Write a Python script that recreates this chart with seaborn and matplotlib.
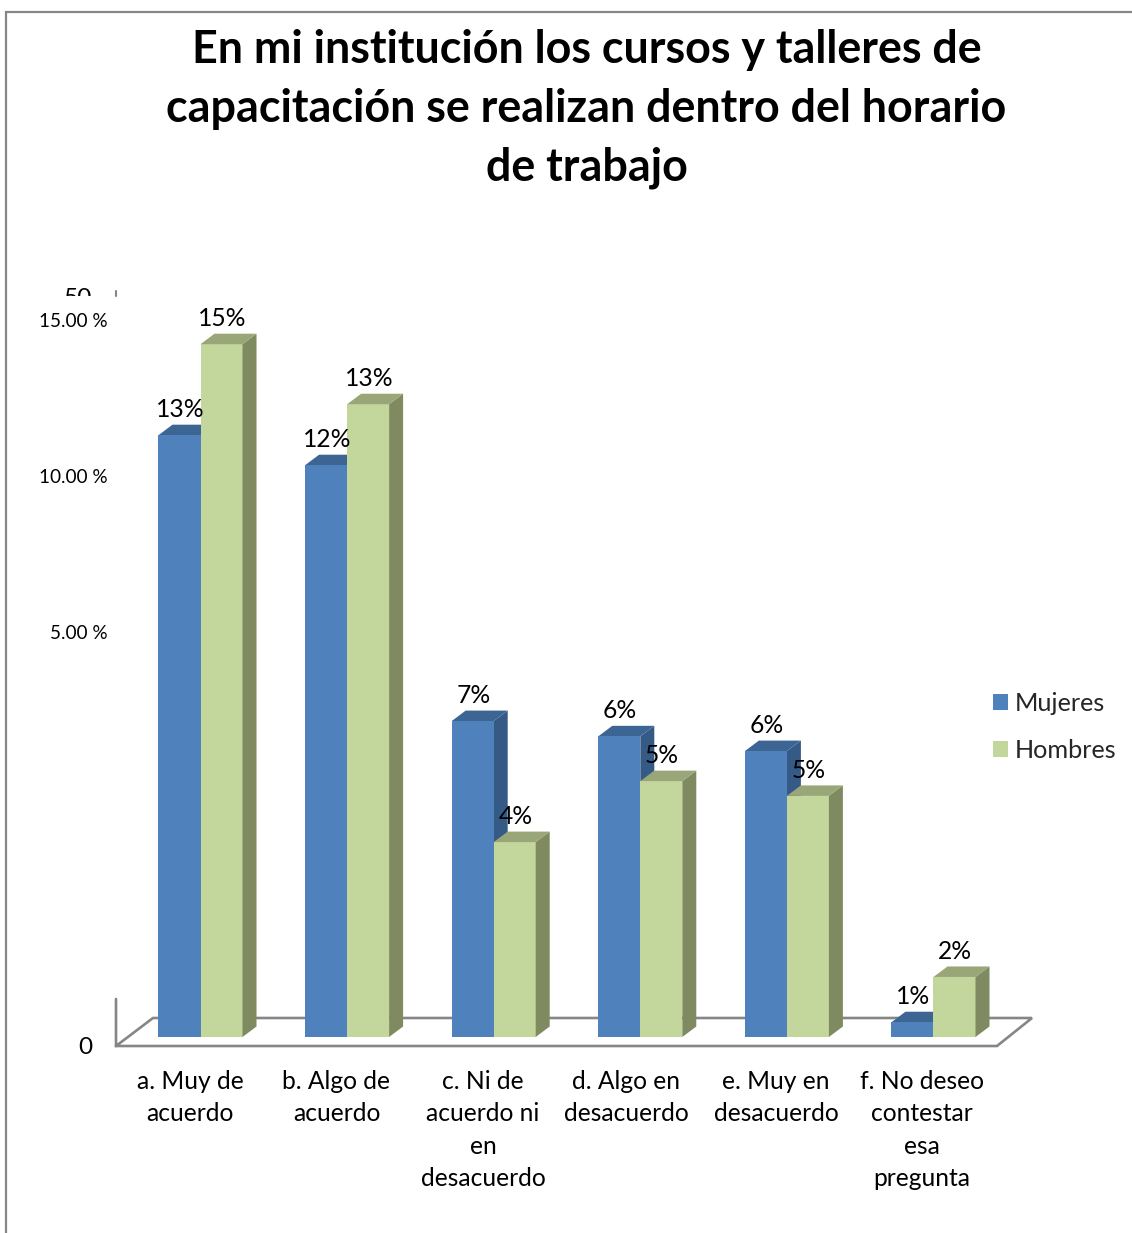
#!/usr/bin/env python3

import matplotlib
matplotlib.use('Agg')
from matplotlib import pyplot as plt
from matplotlib.patches import Polygon, Rectangle
import seaborn as sns
import pandas as pd

title_lines = ['En mi institución los cursos y talleres de',
               'capacitación se realizan dentro del horario',
               'de trabajo']
categories = ['a', 'b', 'c', 'd', 'e', 'f']
category_lines = [['a. Muy de', 'acuerdo'],
                  ['b. Algo de', 'acuerdo'],
                  ['c. Ni de', 'acuerdo ni', 'en', 'desacuerdo'],
                  ['d. Algo en', 'desacuerdo'],
                  ['e. Muy en', 'desacuerdo'],
                  ['f. No deseo', 'contestar', 'esa', 'pregunta']]
mujeres = [13.03, 12.38, 6.84, 6.51, 6.19, 0.32]
hombres = [15.0, 13.7, 4.22, 5.54, 5.22, 1.3]
mujeres_labels = ['13%', '12%', '7%', '6%', '6%', '1%']
hombres_labels = ['15%', '13%', '4%', '5%', '5%', '2%']
y_tick_labels = ['15.00 %', '10.00 %', '5.00 %']

W, H = 1132, 1233
BLUE, BLUE_SIDE, BLUE_TOP = '#4F81BD', '#355A85', '#3C6594'
GREEN, GREEN_SIDE, GREEN_TOP = '#C3D69B', '#7F8A60', '#98A678'
GREY = '#868686'


def PixelText(bg, x, y, s, size, **kw):
    bg.text(x, y, s, fontsize=size, color='black', va='baseline', **kw)


def DrawBackground(fig):
    # whole figure in pixel coordinates, for the frame, floor and loose texts
    bg = fig.add_axes([0, 0, 1, 1])
    bg.set_xlim(0, W)
    bg.set_ylim(H, 0)
    bg.axis('off')
    bg.plot([6, 6, W], [H, 12, 12], color=GREY, lw=1.6, solid_joinstyle='miter')
    bg.plot([116, 116, 997, 1032, 153, 116], [999, 1046, 1046, 1018, 1018, 1046],
            color=GREY, lw=1.9, solid_joinstyle='miter')
    for i, line in enumerate(title_lines):
        PixelText(bg, 586.5, 63 + 58.7 * i, line, 32.35, ha='center', fontweight='bold')
    for cx, lines in zip([190, 336.5, 483, 626, 776, 922], category_lines):
        for i, line in enumerate(lines):
            PixelText(bg, cx, 1089 + 32.3 * i, line, 17.7, ha='center')
    PixelText(bg, 92, 305, '50', 17.6, ha='right')
    bg.add_patch(Rectangle((55, 296), 50, 14, fc='white', ec='none', zorder=3))
    bg.plot([116, 116], [291, 296], color=GREY, lw=1.5)
    for y, label in zip([327, 483, 639], y_tick_labels):
        PixelText(bg, 108, y, label, 13.6, ha='right', zorder=4)
    PixelText(bg, 92, 1054, '0', 17.6, ha='right')


def PlotBars(fig):
    pd_data = pd.DataFrame({
        'respuesta': categories * 2,
        'pct': mujeres + hombres,
        'sexo': ['Mujeres'] * 6 + ['Hombres'] * 6,
    })
    axe = fig.add_axes([127.2 / W, (H - 1037) / H, 879.6 / W, 739 / H])
    sns.barplot(data=pd_data, x='respuesta', y='pct', hue='sexo', ax=axe,
                palette=[BLUE, GREEN], width=0.573, gap=0, saturation=1,
                linewidth=0, zorder=3)
    axe.set_xlim(-0.5, 5.5)
    axe.set_ylim(0, 16)
    axe.patch.set_alpha(0)
    axe.axis('off')

    # fake depth of the old 3-D chart: 14 px right, 10.5 px up
    dx = 14 / 146.6
    dy = 10.5 / (739 / 16)
    sides = [(BLUE_SIDE, BLUE_TOP, 2), (GREEN_SIDE, GREEN_TOP, 3)]
    labels = [mujeres_labels, hombres_labels]
    for cont, (side, top, z), texts in zip(axe.containers, sides, labels):
        for bar, s in zip(cont, texts):
            x0, x1 = bar.get_x(), bar.get_x() + bar.get_width()
            h = bar.get_height()
            axe.add_patch(Polygon([(x1, 0), (x1 + dx, dy), (x1 + dx, h + dy), (x1, h)],
                                  fc=side, ec='none', zorder=z))
            axe.add_patch(Polygon([(x0, h), (x0 + dx, h + dy), (x1 + dx, h + dy), (x1, h)],
                                  fc=top, ec='none', zorder=z))
            axe.annotate(s, (x0 + (x1 - x0) / 2, h), xytext=(0.5, 18.4),
                         textcoords='offset points', ha='center', va='center',
                         fontsize=17.7, color='black', zorder=6, annotation_clip=False)

    sns.move_legend(axe, 'center left', bbox_to_anchor=(970 / W, (H - 727) / H),
                    bbox_transform=fig.transFigure, frameon=False, title=None,
                    fontsize=18.2, handlelength=0.6, handleheight=0.6,
                    handletextpad=0.27, labelspacing=0.96)


def main():
    sns.set_style('white')
    plt.rcParams['font.family'] = ['Lato', 'DejaVu Sans']
    fig = plt.figure(figsize=(W / 100, H / 100), dpi=100)
    DrawBackground(fig)
    PlotBars(fig)
    fig.savefig('out.png', dpi=100)


if __name__ == '__main__':
    main()
